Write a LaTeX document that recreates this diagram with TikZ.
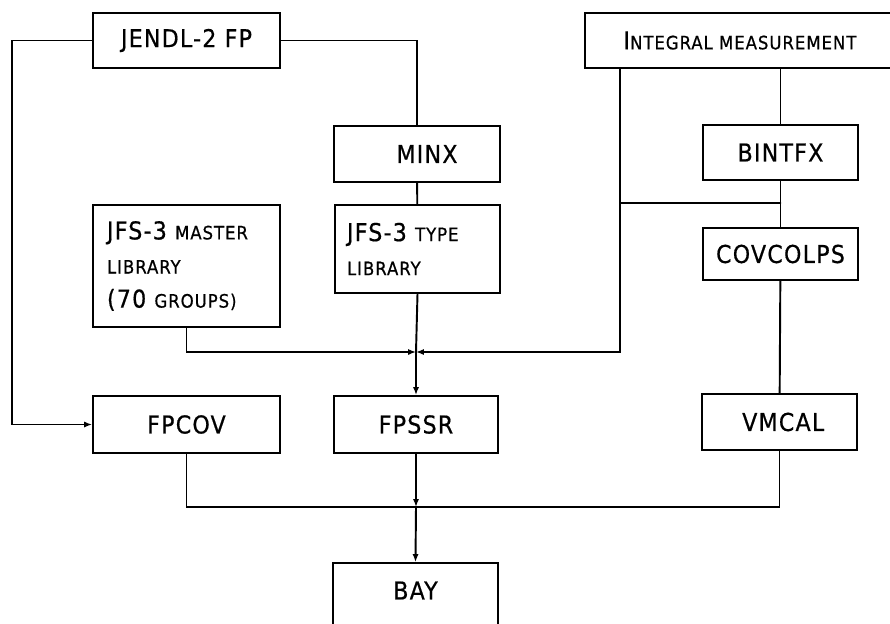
\documentclass[tikz,border=0pt]{standalone}
\usepackage{fontspec}
\setmainfont{DejaVu Sans Condensed}[LetterSpace=5,FakeBold=0.6]
\usetikzlibrary{arrows.meta}
\newcommand{\smc}[1]{{\fontsize{10.5}{12}\selectfont #1}}

\begin{document}
\begin{tikzpicture}[x=0.02cm,y=-0.02cm,>={Latex[length=4.5pt,width=3.5pt]},line cap=round,line width=1.1pt,
  box/.style={draw,inner sep=0pt,font=\fontsize{14}{19.4}\selectfont,minimum height=1.1cm},
  libbox/.style={box,align=left}]
  \clip (0,0) rectangle (890,623);
  % sources
  \node[box,minimum width=3.74cm] (jendl) at (186.5,40.5) {JENDL-2 FP};
  \node[box,minimum width=6.2cm] (integ) at (740,40.5) {I\smc{NTEGRAL MEASUREMENT}};
  % processing codes
  \node[box,minimum width=3.32cm,minimum height=1.12cm] (minx) at (417,154) {\hspace{0.4cm}MINX};
  \node[box,minimum width=3.1cm] (bintfx) at (780.5,152.5) {BINTFX};
  \node[libbox,minimum width=3.74cm,minimum height=2.44cm,text width=3.18cm] (master) at (186.5,266)
    {JFS-3 \smc{MASTER}\\\smc{LIBRARY}\\(70 \smc{GROUPS)}};
  \node[libbox,minimum width=3.3cm,minimum height=1.76cm,text width=2.82cm] (type) at (417.5,249)
    {JFS-3 \smc{TYPE}\\\smc{LIBRARY}};
  \node[box,minimum width=3.1cm,minimum height=1.04cm] (covcol) at (780.5,254) {COVCOLPS};
  \node[box,minimum width=3.74cm,minimum height=1.14cm] (fpcov) at (186.5,424.5) {FPCOV\hspace{0.3cm}};
  \node[box,minimum width=3.28cm,minimum height=1.14cm] (fpssr) at (416,424.5) {FPSSR};
  \node[box,minimum width=3.1cm,minimum height=1.12cm] (vmcal) at (779.5,422) {\hspace{0.15cm}VMCAL};
  \node[box,minimum width=3.3cm,minimum height=1.74cm,text depth=0.64cm] (bay) at (415.5,606.5) {BAY};
  % branch points
  \coordinate (lft) at (12,40.5);
  \coordinate (j1) at (416,352);
  \coordinate (j2) at (416,507);
  \coordinate (i1) at (620,68);
  \coordinate (i2) at (620,203);
  % connectors
  \draw[->] (jendl.west) -- (lft) |- (fpcov.west);
  \draw (jendl.east) -| (minx.north);
  \draw (minx) -- (type);
  \draw (type.south) -- (j1);
  \draw[->] (master.south) |- (j1);
  \draw[->] (i1) |- (j1);
  \draw[->] (j1) -- (fpssr.north);
  \draw (bintfx.north |- integ.south) -- (bintfx.north);
  \draw (i2) -- (i2 -| covcol.north);
  \draw (bintfx) -- (covcol);
  \draw (covcol) -- (vmcal);
  \draw (fpcov.south) |- (j2);
  \draw (vmcal.south) |- (j2);
  \draw[->] (fpssr.south) -- (j2);
  \draw[->] (j2) -- (bay.north);
\end{tikzpicture}
\end{document}
